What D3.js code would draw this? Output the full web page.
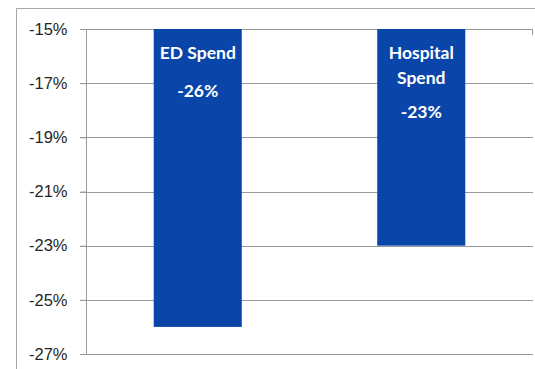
<!DOCTYPE html>
<html>
<head>
<meta charset="utf-8">
<script src="https://cdn.jsdelivr.net/npm/d3@7"></script>
<style>
	body { margin: 0; background: #fff; }
	svg { display: block; }
</style>
</head>
<body>
<div id="chart"></div>
<script>
// data
var categories = ["ED Spend", "Hospital Spend"];
var labelLines = [["ED Spend"], ["Hospital", "Spend"]];
var values = [-26, -23];
var tickValues = [-15, -17, -19, -21, -23, -25, -27];

var w = 535, h = 369;
var plotLeft = 86, plotRight = 533, plotTop = 29, plotBottom = 354;

var svg = d3.select("#chart")
	.append("svg")
	.attr("width", w)
	.attr("height", h);

// outer frame (left + top lines visible)
svg.append("path")
	.attr("d", "M16.5," + h + "V8.5H" + w)
	.style("fill", "none")
	.style("stroke", "#a6a6a6")
	.style("stroke-width", 1);

var yScale = d3.scaleLinear()
	.domain([-27, -15])
	.range([plotBottom, plotTop]);

var xScale = d3.scaleBand()
	.domain(categories)
	.range([plotLeft, plotRight])
	.paddingInner(0.606)
	.paddingOuter(0.303);

// gridlines
svg.append("g")
	.selectAll("line")
	.data(tickValues)
	.enter()
	.append("line")
	.attr("x1", plotLeft - 6)
	.attr("x2", plotRight)
	.attr("y1", function(d) { return Math.round(yScale(d)) + 0.5; })
	.attr("y2", function(d) { return Math.round(yScale(d)) + 0.5; })
	.style("stroke", "#9a9a9a")
	.style("stroke-width", 1);

// right end tick on top gridline
svg.append("line")
	.attr("x1", plotRight - 0.5).attr("x2", plotRight - 0.5)
	.attr("y1", Math.round(yScale(-15))).attr("y2", Math.round(yScale(-15)) + 6)
	.style("stroke", "#9a9a9a");

// bars
svg.append("g")
	.selectAll("rect")
	.data(values)
	.enter()
	.append("rect")
	.attr("x", function(d, i) { return xScale(categories[i]); })
	.attr("y", yScale(-15))
	.attr("width", xScale.bandwidth())
	.attr("height", function(d) { return yScale(d) - yScale(-15); })
	.style("fill", "#0a46a9");

// y axis
var yAxis = d3.axisLeft(yScale)
	.tickValues(tickValues)
	.tickSize(6)
	.tickPadding(13)
	.tickFormat(function(d) { return d + "%"; });

var yBar = svg.append("g")
	.attr("transform", "translate(" + (plotLeft + 0.5) + ",0)")
	.call(yAxis);
yBar.select(".domain").style("stroke", "#9a9a9a").attr("d", "M0," + plotTop + "V" + plotBottom);
yBar.selectAll(".tick line").style("stroke", "#9a9a9a");
yBar.selectAll("text")
	.style("font-family", "'Liberation Sans', Arial, sans-serif")
	.style("font-size", "16.5px")
	.style("fill", "#262626");

// in-bar labels
var labelGroup = svg.append("g")
	.style("font-family", "Lato, 'Open Sans', sans-serif")
	.style("font-weight", "bold")
	.style("font-size", "17.5px")
	.style("fill", "#fff")
	.attr("text-anchor", "middle");

labelLines.forEach(function(lines, i) {
	var cx = xScale(categories[i]) + xScale.bandwidth() / 2;
	var y0 = yScale(-15) + 30;
	lines.forEach(function(t, j) {
		labelGroup.append("text")
			.attr("x", cx)
			.attr("y", y0 + j * 25)
			.text(t);
	});
	labelGroup.append("text")
		.attr("x", cx)
		.attr("y", y0 + (lines.length - 1) * 25 + (lines.length > 1 ? 34 : 38))
		.text(values[i] + "%");
});
</script>
</body>
</html>
